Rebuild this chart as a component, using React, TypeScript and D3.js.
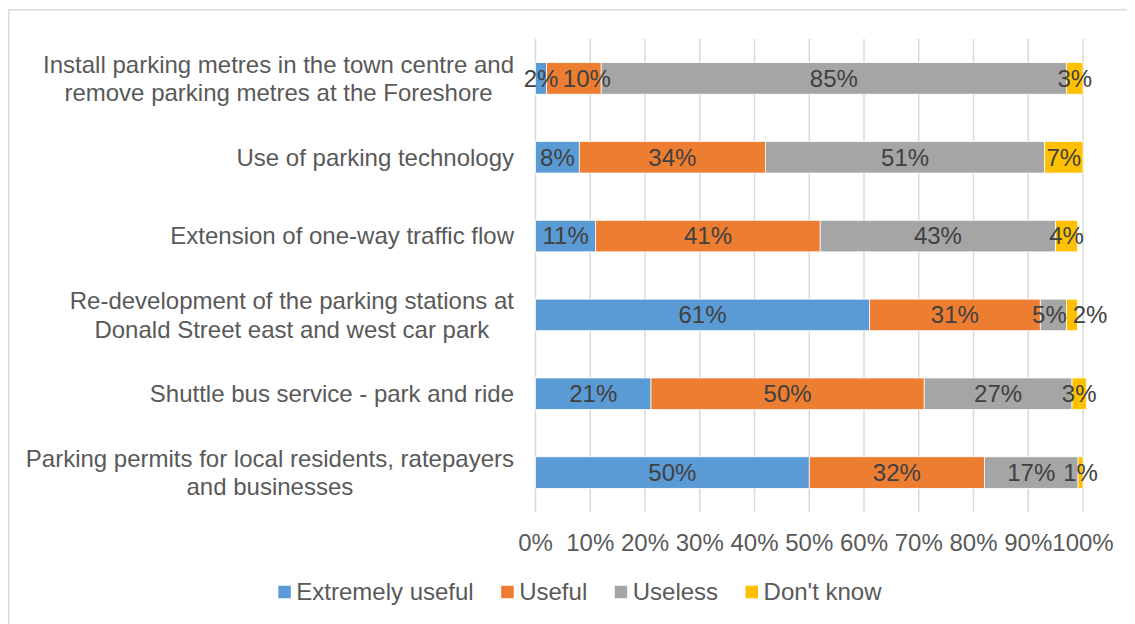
import React from "react";
import * as d3 from "d3";

const categories: string[][] = [
  ["Install parking metres in the town centre and", "remove parking metres at the Foreshore"],
  ["Use of parking technology"],
  ["Extension of one-way traffic flow"],
  ["Re-development of the parking stations at", "Donald Street east and west car park"],
  ["Shuttle bus service - park and ride"],
  ["Parking permits for local residents, ratepayers", "and businesses"],
];

const seriesNames = ["Extremely useful", "Useful", "Useless", "Don't know"];
const seriesColors = ["#5B9BD5", "#ED7D31", "#A5A5A5", "#FFC000"];

const extremelyUseful = [2, 8, 11, 61, 21.1, 50];
const useful = [10, 34, 41, 31.2, 49.9, 32];
const useless = [85, 51, 43, 4.8, 27.0, 17.1];
const dontKnow = [3, 7, 4, 2, 2.6, 0.9];

const seriesValues = [extremelyUseful, useful, useless, dontKnow];
const xTicks = [0, 10, 20, 30, 40, 50, 60, 70, 80, 90, 100];

const FONT = "'Liberation Sans', Arial, sans-serif";
const FS = 24;

// manually moved data labels (row, series) -> horizontal nudge in px
const labelNudge: Record<string, number> = { "0-1": 13, "3-2": -4, "3-3": 18 };

let ctx: CanvasRenderingContext2D | null = null;
function measure(t: string): number {
  if (!ctx) {
    const c = document.createElement("canvas");
    ctx = c.getContext("2d");
  }
  if (!ctx) return t.length * FS * 0.5;
  ctx.font = `${FS}px ${FONT}`;
  return ctx.measureText(t).width;
}

export default function App() {
  const W = 1127;
  const H = 616;
  const x = d3.scaleLinear().domain([0, 100]).range([527.5, 1075]);
  const y = d3
    .scaleBand<number>()
    .domain(d3.range(categories.length))
    .range([31, 504])
    .paddingInner(0.6)
    .paddingOuter(0.3);
  const fmt = (v: number) => `${(+v).toFixed(0)}%`;

  const stackRows = categories.map((_, i) => {
    let acc = 0;
    return seriesValues.map((vals, s) => {
      const v = vals[i];
      const seg = { s, x0: acc, x1: acc + v, v };
      acc += v;
      return seg;
    });
  });

  const labelRight = 506;
  const lineH = 28.5;

  // legend layout
  const legendStart = 270.3;
  let lx = legendStart;
  const legendItems = seriesNames.map((n, i) => {
    const item = { n, i, x: lx };
    lx += 18 + measure(n) + 27.5;
    return item;
  });
  const legendY = 584;

  return (
    <svg width={W} height={H} style={{ display: "block", fontFamily: FONT }}>
      <rect x={0} y={0} width={W} height={H} fill="#FFFFFF" />
      <rect x={0.75} y={1.75} width={1300} height={800} fill="none" stroke="#D9D9D9" strokeWidth={1.5} />
      {xTicks.map((t) => (
        <line key={t} x1={x(t)} x2={x(t)} y1={31} y2={504} stroke="#D9D9D9" strokeWidth={1.5} />
      ))}
      {stackRows.map((row, i) =>
        row.map((seg) => (
          <rect
            key={`${i}-${seg.s}`}
            x={x(seg.x0)}
            y={y(i)!}
            width={x(seg.x1) - x(seg.x0)}
            height={y.bandwidth()}
            fill={seriesColors[seg.s]}
            stroke="#FFFFFF"
            strokeWidth={0.75}
          />
        ))
      )}
      {stackRows.map((row, i) =>
        row.map((seg) => (
          <text
            key={`l${i}-${seg.s}`}
            x={(x(seg.x0) + x(seg.x1)) / 2 + (labelNudge[`${i}-${seg.s}`] || 0)}
            y={y(i)! + y.bandwidth() / 2}
            dy="0.35em"
            textAnchor="middle"
            fontSize={FS}
            fill="#404040"
          >
            {fmt(seg.v)}
          </text>
        ))
      )}
      {categories.map((lines, i) => {
        const cy = y(i)! + y.bandwidth() / 2;
        if (lines.length === 1) {
          return (
            <text key={`c${i}`} x={labelRight} y={cy} dy="0.35em" textAnchor="end" fontSize={FS} fill="#595959">
              {lines[0]}
            </text>
          );
        }
        const maxW = Math.max(...lines.map(measure));
        const cx = labelRight - maxW / 2;
        const y0 = cy - ((lines.length - 1) * lineH) / 2;
        return (
          <text key={`c${i}`} textAnchor="middle" fontSize={FS} fill="#595959">
            {lines.map((ln, k) => (
              <tspan key={k} x={cx} y={y0 + k * lineH} dy="0.35em">
                {ln}
              </tspan>
            ))}
          </text>
        );
      })}
      {xTicks.map((t) => (
        <text key={`t${t}`} x={x(t)} y={543} textAnchor="middle" fontSize={FS} fill="#595959">
          {`${t}%`}
        </text>
      ))}
      {legendItems.map((it) => (
        <g key={it.n}>
          <rect x={it.x} y={legendY - 6.25} width={12.5} height={12.5} fill={seriesColors[it.i]} />
          <text x={it.x + 18} y={legendY} dy="0.35em" fontSize={FS} fill="#595959">
            {it.n}
          </text>
        </g>
      ))}
    </svg>
  );
}
